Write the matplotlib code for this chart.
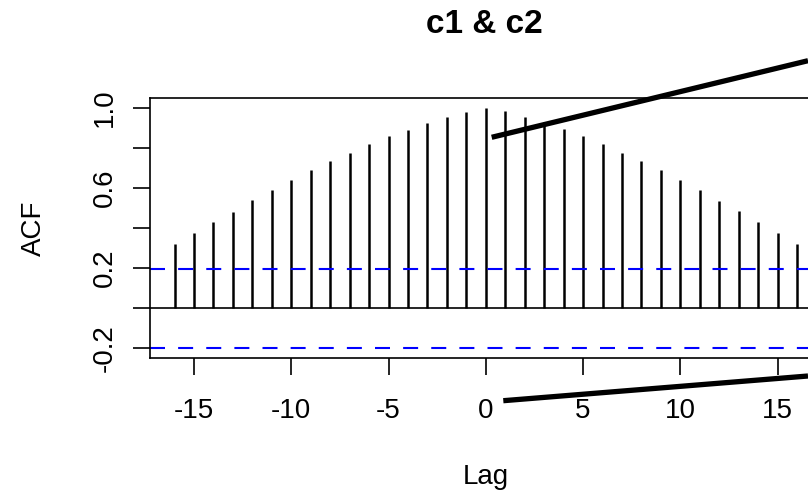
import numpy as np
import matplotlib
matplotlib.use("Agg")
import matplotlib.pyplot as plt
from matplotlib.lines import Line2D

plt.rcParams['font.family'] = ['Liberation Sans', 'DejaVu Sans']
plt.rcParams['axes.unicode_minus'] = False

# cross-correlation c1 & c2, lags -16..16
lags = list(range(-16, 17))
acf = [0.319, 0.374, 0.429, 0.482, 0.538, 0.589, 0.639, 0.687, 0.732, 0.776,
       0.819, 0.857, 0.891, 0.924, 0.954, 0.980, 1.000, 0.982, 0.955, 0.927,
       0.894, 0.857, 0.818, 0.776, 0.733, 0.687, 0.639, 0.589, 0.537, 0.483,
       0.430, 0.376, 0.319]
clim = 0.196
xticks = [-15, -10, -5, 0, 5, 10, 15]
yticks = [-0.2, 0.0, 0.2, 0.4, 0.6, 0.8, 1.0]
ytick_labels = ['-0.2', '', '0.2', '', '0.6', '', '1.0']

W, H = 808, 491
fig = plt.figure(figsize=(W / 100, H / 100), dpi=100)

# axes box runs past the right edge (the reference is cropped)
left, right, top, bottom = 149.6, 822.0, 98.1, 358.0
ax = fig.add_axes([left / W, 1 - bottom / H, (right - left) / W, (bottom - top) / H])

ax.vlines(lags, 0, acf, color='black', lw=1.8)
ax.axhline(0, color='black', lw=1.2)
for c in (clim, -clim):
    ax.axhline(c, color='#0000FF', lw=1.5, linestyle=(0, (7.2, 6.3)))

ax.set_xlim(-17.28, 17.28)
ax.set_ylim(-0.248, 1.048)
ax.set_xticks(xticks)
ax.set_yticks(yticks)
ax.set_yticklabels(ytick_labels, rotation=90, va='center')
ax.tick_params(axis='x', length=12.2, width=1.2, pad=16.5, labelsize=20)
ax.tick_params(axis='y', length=12.2, width=1.2, pad=11, labelsize=20)
for s in ax.spines.values():
    s.set_linewidth(1.2)

fig.text(484 / W, 1 - 33.3 / H, 'c1 & c2', ha='center', va='baseline',
         fontsize=24, fontweight='bold')
fig.text(486 / W, 1 - 484 / H, 'Lag', ha='center', va='baseline', fontsize=20)
fig.text(34 / W, 1 - 228 / H, 'ACF', ha='center', va='center', rotation=90, fontsize=20)

# two thick hand-drawn annotation strokes
strokes = [((491.7, 137.3), (808, 60.7)), ((503.3, 400.7), (808, 376.0))]
for (x0, y0), (x1, y1) in strokes:
    fig.add_artist(Line2D([x0 / W, x1 / W], [1 - y0 / H, 1 - y1 / H],
                          transform=fig.transFigure, color='black', lw=3.8,
                          solid_capstyle='butt'))

fig.savefig('out.png', dpi=100)
